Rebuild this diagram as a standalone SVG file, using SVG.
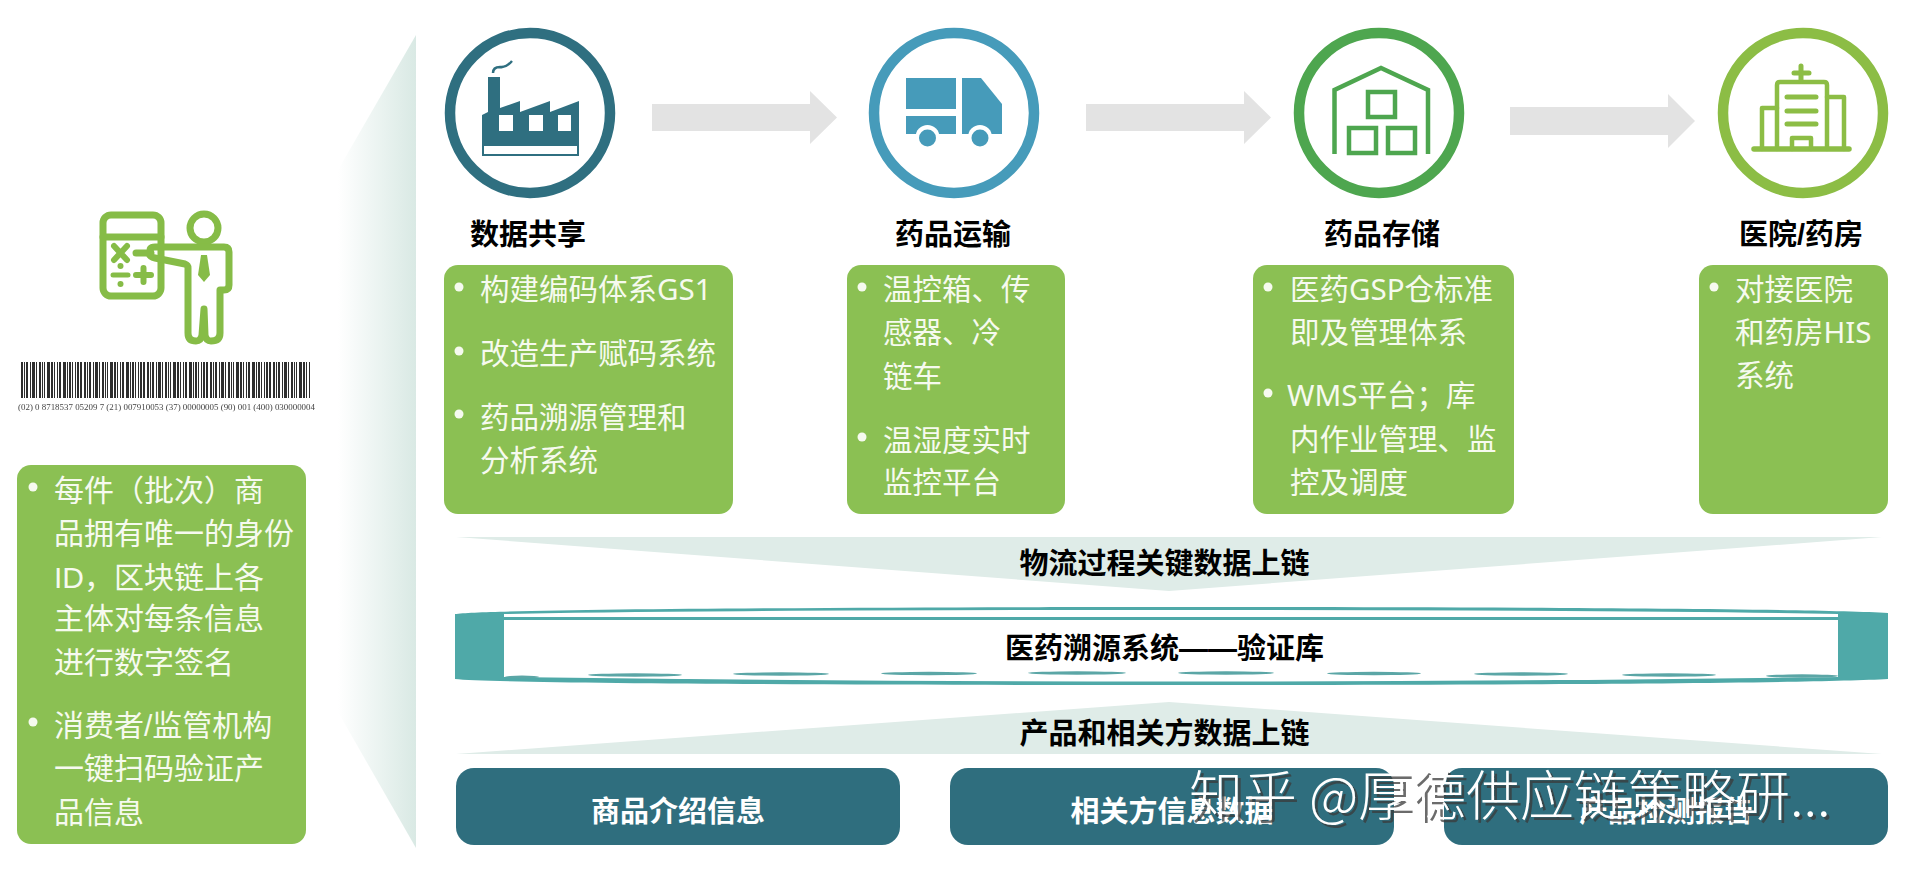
<svg xmlns="http://www.w3.org/2000/svg" width="1914" height="876" viewBox="0 0 1914 876">
<defs>
<linearGradient id="fade" x1="338" y1="0" x2="416" y2="0" gradientUnits="userSpaceOnUse"><stop offset="0" stop-color="#ffffff"/><stop offset="1" stop-color="#d9e9e4"/></linearGradient>
<filter id="wm" x="-5%" y="-20%" width="110%" height="140%"><feDropShadow dx="3" dy="3" stdDeviation="0.6" flood-color="#3a3a3a" flood-opacity="0.75"/></filter>
<filter id="soft" x="-2%" y="-20%" width="104%" height="140%"><feGaussianBlur stdDeviation="0.35"/></filter>
</defs>
<style>
.green{fill:#8bc053}
.b{font-family:"Noto Sans","Noto Sans CJK SC",sans-serif;font-size:29.5px;fill:#f6faef}
.l{font-family:"Liberation Sans","Noto Sans CJK SC",sans-serif;font-size:30px;fill:#f6faef}
.t{font-family:"Liberation Sans","Noto Sans CJK SC",sans-serif;font-size:29px;font-weight:700;fill:#000;text-anchor:middle}
.w{font-family:"Liberation Sans","Noto Sans CJK SC",sans-serif;font-size:29px;font-weight:700;fill:#fff;text-anchor:middle}
.dot{fill:#f6faef}
.band{fill:#dfece8}
.teal{fill:#2f6e7e}
.ring{fill:none;stroke-width:10.5}
.arrow{fill:#e3e3e3}
.dash{fill:#5ba6a6}
</style>
<rect width="1914" height="876" fill="#ffffff"/>

<g id="funnel"><polygon points="416,35 338,170 338,712 416,848" fill="url(#fade)"/></g>

<g id="person-icon" fill="none" stroke="#86bc47" stroke-width="7" stroke-linejoin="round" stroke-linecap="round">
<rect x="103" y="215" width="58" height="81" rx="8"/>
<path d="M103 237H161"/>
<circle cx="204" cy="228" r="14"/>
<path d="M136 253H151Q148 247 155 247H224Q229 247 229 252V285Q229 290 224 290H220V333Q220 341 211 341Q206 341 205 335L204 309L202 335Q201 341 196 341Q188 341 188 333V268Q188 265 185 264L155 258Q150 257 149 254"/>
<path d="M114 246L127 260M127 246L114 260" stroke-width="6"/>
<path d="M113 275H128" stroke-width="5"/>
<path d="M136 275H151M143.500 268V282" stroke-width="6"/>
<polygon points="201,255 207,255 210,275 204,282 198,275" fill="#86bc47" stroke="none"/>
<circle cx="120.500" cy="266" r="3" fill="#86bc47" stroke="none"/>
<circle cx="120.500" cy="284" r="3" fill="#86bc47" stroke="none"/>
</g>

<g id="barcode">
<line x1="21" y1="380" x2="310" y2="380" stroke="#2e2e2e" stroke-width="36" stroke-dasharray="2 1 1 1 2 2 1 1 3 1 1 2 2 1 1 1 1 2 3 1 2 1 1 2 1 1 2 2 3 1 1 1 2 1 1 2 1 1 2 1 2 2"/>
<text x="18" y="410" font-family="Liberation Serif,serif" font-size="9" fill="#444" textLength="297" lengthAdjust="spacingAndGlyphs" filter="url(#soft)">(02) 0 8718537 05209 7 (21) 007910053 (37) 00000005 (90) 001 (400) 030000004</text>
</g>

<g id="left-box">
<rect class="green" x="17" y="465" width="289" height="379" rx="14"/>
<circle class="dot" cx="33" cy="487" r="4.500"/>
<circle class="dot" cx="33" cy="722" r="4.500"/>
<text class="l" x="54" y="501">每件（批次）商</text>
<text class="l" x="54" y="544">品拥有唯一的身份</text>
<text class="l" x="54" y="588">ID，区块链上各</text>
<text class="l" x="54" y="629">主体对每条信息</text>
<text class="l" x="54" y="673">进行数字签名</text>
<text class="l" x="54" y="736">消费者/监管机构</text>
<text class="l" x="54" y="779">一键扫码验证产</text>
<text class="l" x="54" y="823">品信息</text>
</g>

<g id="connectors">
<polygon class="arrow" points="652,104 810,104 810,91 837,117.500 810,144 810,131 652,131"/>
<polygon class="arrow" points="1086,104 1244,104 1244,91 1271,117.500 1244,144 1244,131 1086,131"/>
<polygon class="arrow" points="1510,107 1668,107 1668,94 1695,121 1668,148 1668,135 1510,135"/>
</g>

<g id="factory">
<circle class="ring" cx="530" cy="113" r="80" stroke="#2f6f80"/>
<path d="M482 115L488 112V77H500V108L520 101V112L550 101V112L579 101V156H482Z" fill="#2f6f80"/>
<path d="M493 73Q493 67 500 67Q506 68 512 61" fill="none" stroke="#2f6f80" stroke-width="2.500"/>
<rect x="499" y="115" width="14" height="16" fill="#fff"/>
<rect x="529" y="115" width="14" height="16" fill="#fff"/>
<rect x="558" y="115" width="13" height="16" fill="#fff"/>
<rect x="484" y="146" width="93" height="8" fill="#fff"/>
<text class="t" x="528" y="245">数据共享</text>
</g>

<g id="truck">
<circle class="ring" cx="954" cy="113" r="80" stroke="#469bba"/>
<g fill="#469bba">
<rect x="906" y="78" width="50" height="31"/>
<rect x="906" y="116" width="50" height="18"/>
<path d="M962 78H981L1002 104V134H962Z"/>
</g>
<circle cx="927.500" cy="137" r="12" fill="#fff"/>
<circle cx="980" cy="137" r="12" fill="#fff"/>
<circle cx="927.500" cy="138" r="8.500" fill="#469bba"/>
<circle cx="980" cy="138" r="8.500" fill="#469bba"/>
<text class="t" x="953" y="245">药品运输</text>
</g>

<g id="warehouse">
<circle class="ring" cx="1379" cy="113" r="80" stroke="#4ea64f"/>
<g fill="none" stroke="#4ea64f" stroke-width="4.500">
<path d="M1334.500 154V90L1381 68L1428 90V154"/>
<rect x="1368" y="92" width="27" height="25"/>
<rect x="1349" y="128" width="27" height="25"/>
<rect x="1388" y="128" width="27" height="25"/>
</g>
<text class="t" x="1382" y="245">药品存储</text>
</g>

<g id="hospital">
<circle class="ring" cx="1803" cy="113" r="80" stroke="#8cbd45"/>
<g fill="none" stroke="#8cbd45" stroke-width="4.500" stroke-linecap="round" stroke-linejoin="round">
<path d="M1777 149V85Q1777 82 1780 82H1824Q1827 82 1827 85V149"/>
<path d="M1777 108H1762V149M1827 97H1844V149"/>
<path d="M1754 149H1849" stroke-width="5.500"/>
<path d="M1801 66V81M1794 73H1809" stroke-width="5"/>
<path d="M1787 97H1816M1787 111H1816M1787 124H1816" stroke-width="5"/>
<path d="M1792 149V138H1811V149"/>
</g>
<text class="t" x="1801" y="245">医院/药房</text>
</g>

<g id="box-1">
<rect class="green" x="444" y="265" width="289" height="249" rx="14"/>
<circle class="dot" cx="459" cy="287" r="4.500"/><circle class="dot" cx="459" cy="351" r="4.500"/><circle class="dot" cx="459" cy="414" r="4.500"/>
<text class="b" x="480" y="300">构建编码体系GS1</text>
<text class="b" x="480" y="364">改造生产赋码系统</text>
<text class="b" x="480" y="428">药品溯源管理和</text>
<text class="b" x="480" y="471">分析系统</text>
</g>
<g id="box-2">
<rect class="green" x="847" y="265" width="218" height="249" rx="14"/>
<circle class="dot" cx="862" cy="287" r="4.500"/><circle class="dot" cx="862" cy="437" r="4.500"/>
<text class="b" x="883" y="300">温控箱、传</text>
<text class="b" x="883" y="343">感器、冷</text>
<text class="b" x="883" y="387">链车</text>
<text class="b" x="883" y="451">温湿度实时</text>
<text class="b" x="883" y="493">监控平台</text>
</g>
<g id="box-3">
<rect class="green" x="1253" y="265" width="261" height="249" rx="14"/>
<circle class="dot" cx="1268" cy="287" r="4.500"/><circle class="dot" cx="1268" cy="393" r="4.500"/>
<text class="b" x="1290" y="300">医药GSP仓标准</text>
<text class="b" x="1290" y="343">即及管理体系</text>
<text class="b" x="1287" y="406">WMS平台；库</text>
<text class="b" x="1290" y="450">内作业管理、监</text>
<text class="b" x="1290" y="493">控及调度</text>
</g>
<g id="box-4">
<rect class="green" x="1699" y="265" width="189" height="249" rx="14"/>
<circle class="dot" cx="1714" cy="287" r="4.500"/>
<text class="b" x="1735" y="300">对接医院</text>
<text class="b" x="1735" y="343">和药房HIS</text>
<text class="b" x="1735" y="386">系统</text>
</g>

<g id="band-upper">
<polygon class="band" points="456,537 1882,537 1169,591"/>
<text class="t" x="1164.500" y="574">物流过程关键数据上链</text>
</g>

<g id="database">
<path d="M455 614C500 608 1000 607 1170 607C1400 607 1800 608 1888 613V679C1800 684 1400 685 1170 685C900 685 500 684 455 679Z" fill="#4fa9a8"/>
<path d="M504 614Q700 610 1170 610Q1640 610 1838 614V617H504Z" fill="#fff"/>
<path d="M504 620H1838V677Q1170 686 504 677Z" fill="#fff"/>
<ellipse class="dash" cx="522" cy="677" rx="17" ry="1.500"/>
<ellipse class="dash" cx="635" cy="675" rx="47" ry="1.700"/>
<ellipse class="dash" cx="781" cy="674" rx="48" ry="1.700"/>
<ellipse class="dash" cx="929" cy="673.500" rx="48" ry="1.700"/>
<ellipse class="dash" cx="1077" cy="673" rx="49" ry="1.700"/>
<ellipse class="dash" cx="1226" cy="673" rx="48" ry="1.700"/>
<ellipse class="dash" cx="1374" cy="673.500" rx="47" ry="1.700"/>
<ellipse class="dash" cx="1521" cy="674" rx="47" ry="1.700"/>
<ellipse class="dash" cx="1669" cy="675" rx="47" ry="1.700"/>
<ellipse class="dash" cx="1802" cy="676" rx="36" ry="1.700"/>
<text class="t" x="1164.500" y="659">医药溯源系统——验证库</text>
</g>

<g id="band-lower">
<polygon class="band" points="456,754 1882,754 1169,702"/>
<text class="t" x="1164.500" y="744">产品和相关方数据上链</text>
</g>

<g id="data-1"><rect class="teal" x="456" y="768" width="444" height="77" rx="18"/><text class="w" x="678" y="822">商品介绍信息</text></g>
<g id="data-2"><rect class="teal" x="950" y="768" width="444" height="77" rx="18"/><text class="w" x="1172" y="822">相关方信息数据</text></g>
<g id="data-3"><rect class="teal" x="1444" y="768" width="444" height="77" rx="18"/><text class="w" x="1666" y="822">产品检测报告</text></g>

<g id="watermark"><text x="1189" y="816" font-family="Noto Sans CJK SC,sans-serif" font-size="54" font-weight="300" fill="#fff" filter="url(#wm)">知乎 @厚德供应链策略研...</text></g>
</svg>
